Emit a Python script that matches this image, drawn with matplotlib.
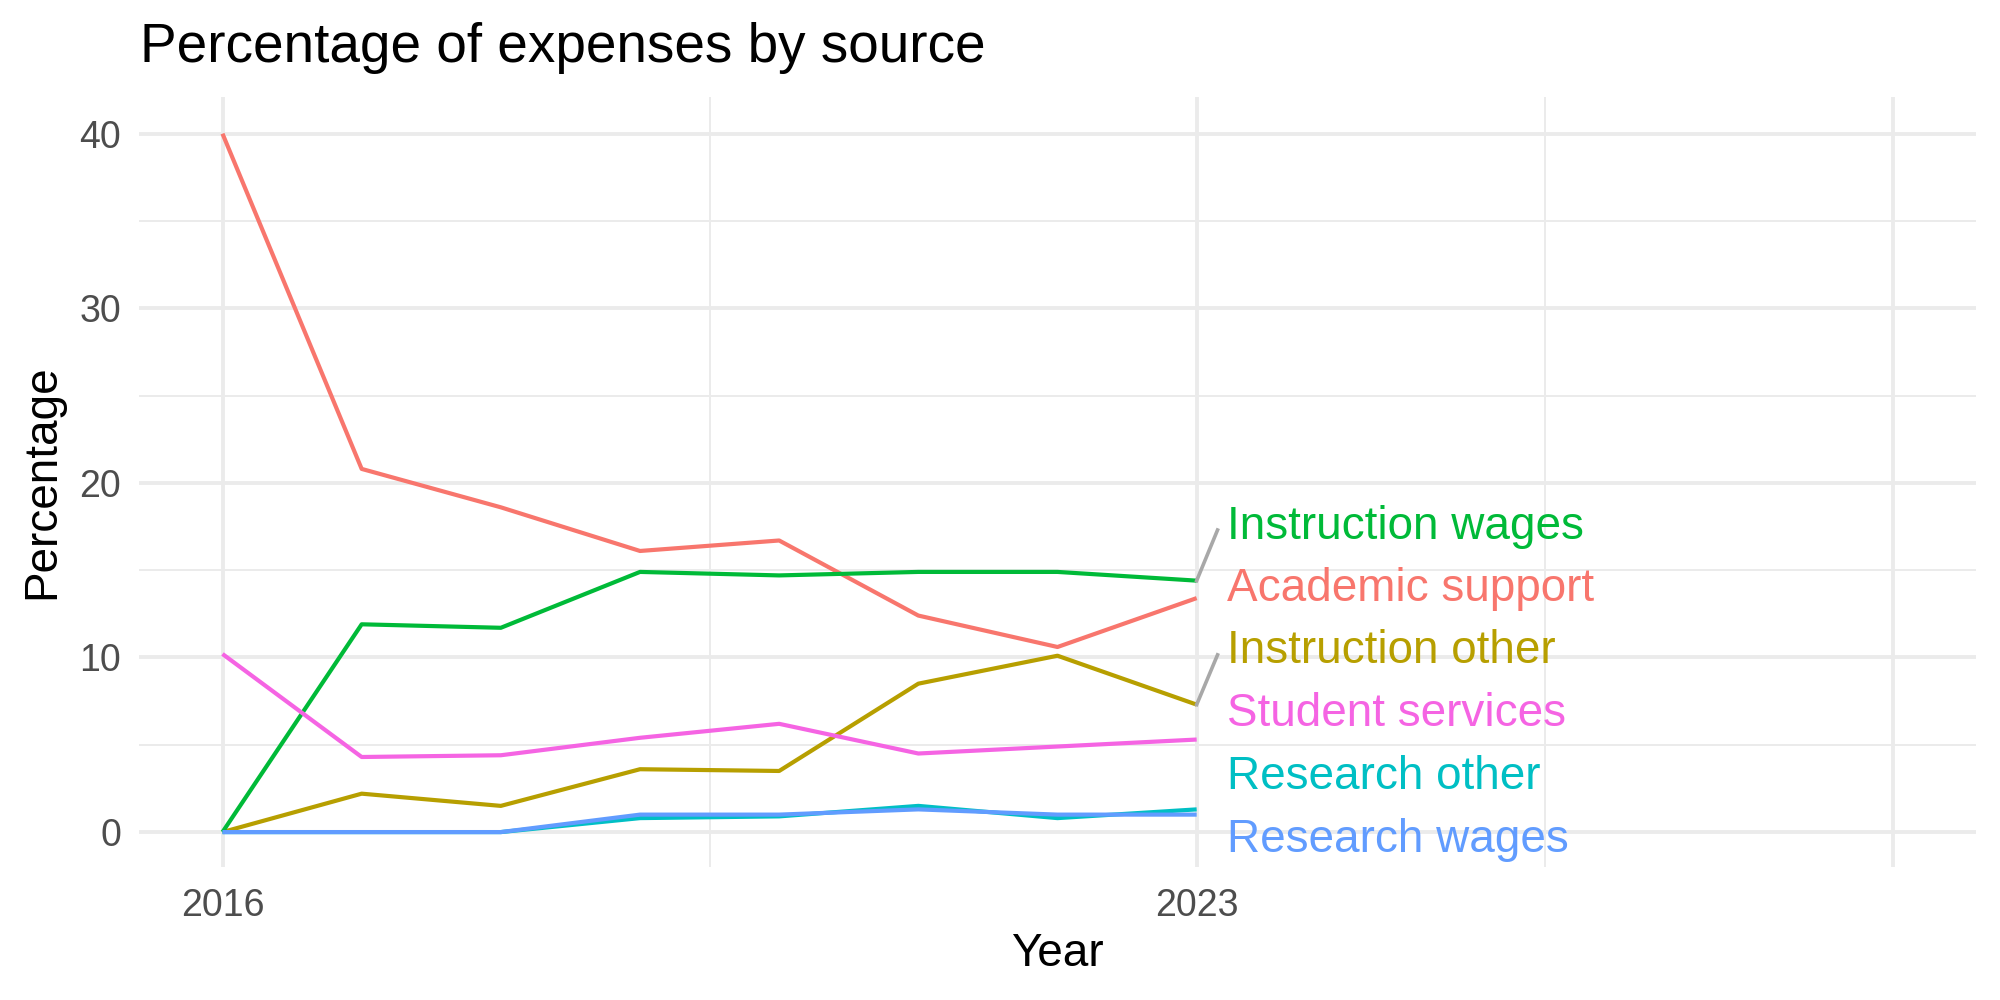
import numpy as np
import matplotlib
matplotlib.use("Agg")
import matplotlib.pyplot as plt

plt.rcParams['font.family'] = ['Liberation Sans', 'DejaVu Sans']

# data
years = [2016, 2017, 2018, 2019, 2020, 2021, 2022, 2023]
sources = ["Academic support", "Instruction other", "Instruction wages",
           "Research other", "Research wages", "Student services"]
academic_support = [40.0, 20.8, 18.6, 16.1, 16.7, 12.4, 10.6, 13.4]
instruction_other = [0.0, 2.2, 1.5, 3.6, 3.5, 8.5, 10.1, 7.3]
instruction_wages = [0.0, 11.9, 11.7, 14.9, 14.7, 14.9, 14.9, 14.4]
research_other = [0.0, 0.0, 0.0, 0.8, 0.9, 1.5, 0.8, 1.3]
research_wages = [0.0, 0.0, 0.0, 1.0, 1.0, 1.3, 1.0, 1.0]
student_services = [10.2, 4.3, 4.4, 5.4, 6.2, 4.5, 4.9, 5.3]
series = [academic_support, instruction_other, instruction_wages,
          research_other, research_wages, student_services]

# ggplot hue palette
colors = ["#F8766D", "#B79F00", "#00BA38", "#00BFC4", "#619CFF", "#F564E3"]

# repelled label positions (top to bottom)
label_order = ["Instruction wages", "Academic support", "Instruction other",
               "Student services", "Research other", "Research wages"]
label_y = [17.5, 13.9, 10.35, 6.75, 3.15, -0.45]
label_x = 2023.22

fig = plt.figure(figsize=(20, 10), dpi=100)
ax = fig.add_axes([0.0695, 0.133, 0.9185, 0.770])

grid_col = "#EBEBEB"
for y in [5, 15, 25, 35]:
    ax.axhline(y, color=grid_col, lw=1.4, zorder=0)
for y in [0, 10, 20, 30, 40]:
    ax.axhline(y, color=grid_col, lw=2.8, zorder=0)
for x in [2019.5, 2025.5]:
    ax.axvline(x, color=grid_col, lw=1.4, zorder=0)
for x in [2016, 2023, 2028]:
    ax.axvline(x, color=grid_col, lw=2.8, zorder=0)

for vals, col in zip(series, colors):
    ax.plot(years, vals, color=col, lw=3.0, solid_capstyle="butt", zorder=2)

for name, ly in zip(label_order, label_y):
    i = sources.index(name)
    last = series[i][-1]
    if abs(last - ly) > 2.5:
        ax.plot([years[-1], 2023.15], [last, ly - 0.2], color="#A8A8A8", lw=2.6, zorder=3)
    ax.text(label_x, ly, name, color=colors[i], fontsize=33, ha="left", va="center", zorder=4)

ax.set_xlim(2015.4, 2028.6)
ax.set_ylim(-2.0, 42.1)
ax.set_xticks([2016, 2023])
ax.set_yticks([0, 10, 20, 30, 40])
ax.tick_params(length=0, labelsize=27, labelcolor="#4D4D4D")
ax.tick_params(axis="x", pad=15)
ax.tick_params(axis="y", pad=13)
for s in ax.spines.values():
    s.set_visible(False)

ax.set_xlabel("Year", fontsize=33, labelpad=6)
ax.set_ylabel("Percentage", fontsize=33, labelpad=11)
fig.text(0.070, 0.952, "Percentage of expenses by source", fontsize=39.5, ha="left", va="center")

fig.savefig("out.png", dpi=100, facecolor="white")
